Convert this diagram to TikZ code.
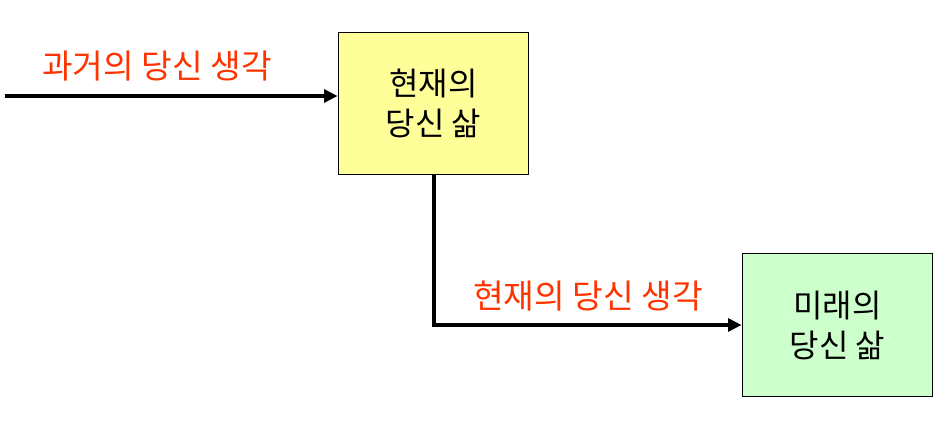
\documentclass[tikz,border=0pt]{standalone}
\usepackage{fontspec}
\setmainfont{Noto Sans CJK KR}
\usepackage{xcolor}
\usetikzlibrary{arrows.meta}
\definecolor{thoughtred}{RGB}{255,51,0}
\definecolor{nowyellow}{RGB}{255,255,153}
\definecolor{futuregreen}{RGB}{204,255,204}

\begin{document}
\begin{tikzpicture}[
    x=0.75pt, y=-0.75pt,
    lifebox/.style={draw, line width=0.9pt, minimum width=143pt, minimum height=107pt, font=\fontsize{24}{30}\selectfont, align=center, inner sep=0pt},
    thought/.style={font=\fontsize{25}{28}\selectfont, thoughtred},
    flow/.style={-{Triangle[length=10pt, width=9.5pt]}, line width=3pt}
]
\useasboundingbox (0,0) rectangle (943,423);

% boxes
\node[lifebox, fill=nowyellow] (now) at (433.5, 103.5) {현재의\\당신 삶};
\node[lifebox, fill=futuregreen] (future) at (837.5, 325) {미래의\\당신 삶};

% thoughts
\coordinate (start) at (5, 96);
\draw[flow] (start) -- (start -| now.west);
\node[thought] (past) at (157, 66) {과거의 당신 생각};

\draw[flow] (now.south) |- (future.west);
\node[thought] (present) at (588, 296) {현재의 당신 생각};
\end{tikzpicture}
\end{document}
